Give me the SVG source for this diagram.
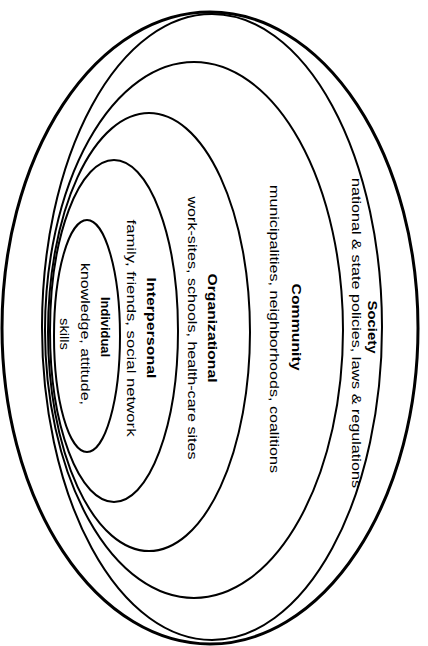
<svg xmlns="http://www.w3.org/2000/svg" width="428" height="646" viewBox="0 0 428 646">
<style>
.ring{fill:none;stroke:#000;stroke-width:2}
.lbl{font-family:"Liberation Sans",Arial,sans-serif;font-size:13px;font-weight:bold;fill:#000;text-anchor:middle}
.dsc{font-family:"Liberation Sans",Arial,sans-serif;font-size:12.5px;fill:#000;text-anchor:middle}
</style>
<rect width="428" height="646" fill="#fff"/>
<g id="society">
<ellipse class="ring" cx="210" cy="328" rx="208" ry="316" style="stroke-width:3"/>
<ellipse class="ring" cx="212" cy="327" rx="170" ry="313"/>
<text class="lbl" transform="translate(368,327) rotate(90)" textLength="53" lengthAdjust="spacingAndGlyphs">Society</text>
<text class="dsc" transform="translate(352,333) rotate(90)" textLength="310" lengthAdjust="spacingAndGlyphs">national &amp; state policies, laws &amp; regulations</text>
</g>
<g id="community">
<ellipse class="ring" cx="194" cy="330" rx="149" ry="268"/>
<text class="lbl" transform="translate(292,327) rotate(90)" textLength="87" lengthAdjust="spacingAndGlyphs">Community</text>
<text class="dsc" transform="translate(270,329) rotate(90)" textLength="288" lengthAdjust="spacingAndGlyphs">municipalities, neighborhoods, coalitions</text>
</g>
<g id="organizational">
<ellipse class="ring" cx="149" cy="332" rx="101" ry="219"/>
<text class="lbl" transform="translate(208,328) rotate(90)" textLength="109" lengthAdjust="spacingAndGlyphs">Organizational</text>
<text class="dsc" transform="translate(188,328) rotate(90)" textLength="263" lengthAdjust="spacingAndGlyphs">work-sites, schools, health-care sites</text>
</g>
<g id="interpersonal">
<ellipse class="ring" cx="114" cy="331" rx="64" ry="171"/>
<text class="lbl" transform="translate(147,328) rotate(90)" textLength="101" lengthAdjust="spacingAndGlyphs">Interpersonal</text>
<text class="dsc" transform="translate(127,328) rotate(90)" textLength="217" lengthAdjust="spacingAndGlyphs">family, friends, social network</text>
</g>
<g id="individual">
<ellipse class="ring" cx="87" cy="336" rx="33" ry="116"/>
<text class="lbl" transform="translate(101,327) rotate(90)" textLength="60" lengthAdjust="spacingAndGlyphs">Individual</text>
<text class="dsc" transform="translate(81,334) rotate(90)" textLength="142" lengthAdjust="spacingAndGlyphs">knowledge, attitude,</text>
<text class="dsc" transform="translate(60,334) rotate(90)" textLength="32" lengthAdjust="spacingAndGlyphs">skills</text>
</g>
</svg>
